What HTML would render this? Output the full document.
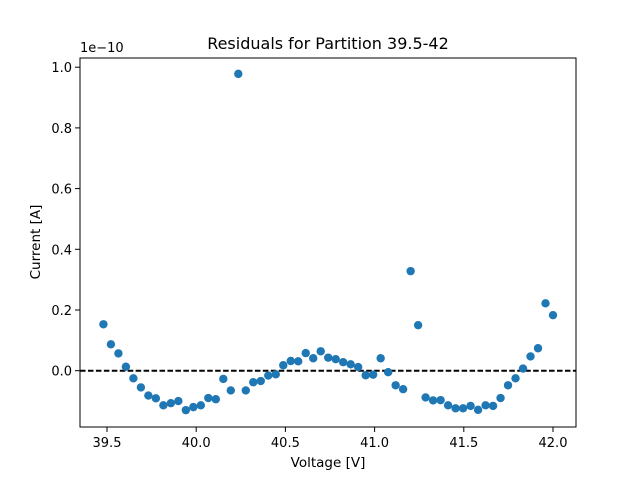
<!DOCTYPE html>
<html><head><meta charset="utf-8"><style>
body{margin:0;background:#fff;}
svg text{font-family:"DejaVu Sans","Liberation Sans",sans-serif;fill:#000;}
</style></head><body>
<svg id="chart" width="640" height="480" xmlns="http://www.w3.org/2000/svg">
<rect width="640" height="480" fill="#fff"/>
<text x="328" y="49" font-size="16" text-anchor="middle">Residuals for Partition 39.5-42</text>
<text x="80" y="52" font-size="13">1e−10</text>
<text x="328" y="467" font-size="13.5" text-anchor="middle">Voltage [V]</text>
<text transform="translate(40,242) rotate(-90)" font-size="13.5" text-anchor="middle">Current [A]</text>
<g id="ticks"></g>
<line id="zero" stroke="#000" stroke-width="2" stroke-dasharray="5.55,2.4"/>
<g id="pts"></g>
<rect x="80" y="58" width="496" height="369" fill="none" stroke="#000" stroke-width="1"/>
</svg>
<script>
const voltages=[39.48,39.522,39.564,39.606,39.648,39.69,39.732,39.774,39.816,39.858,39.9,39.942,39.984,40.026,40.068,40.11,40.152,40.194,40.236,40.278,40.32,40.362,40.404,40.446,40.488,40.53,40.572,40.614,40.656,40.698,40.74,40.782,40.824,40.866,40.908,40.95,40.992,41.034,41.076,41.118,41.16,41.202,41.244,41.286,41.328,41.37,41.412,41.454,41.496,41.538,41.58,41.622,41.664,41.706,41.748,41.79,41.832,41.874,41.916,41.958,42.0];
const residuals=[0.153,0.087,0.057,0.013,-0.025,-0.055,-0.082,-0.091,-0.114,-0.107,-0.100,-0.130,-0.120,-0.114,-0.090,-0.094,-0.027,-0.065,0.978,-0.065,-0.038,-0.034,-0.016,-0.012,0.018,0.032,0.031,0.058,0.041,0.064,0.043,0.038,0.028,0.021,0.012,-0.015,-0.013,0.041,-0.005,-0.048,-0.061,0.328,0.150,-0.088,-0.098,-0.097,-0.114,-0.124,-0.124,-0.116,-0.129,-0.114,-0.116,-0.090,-0.048,-0.025,0.007,0.047,0.074,0.222,0.183];
const xTicks=[39.5,40.0,40.5,41.0,41.5,42.0];
const yTicks=[0.0,0.2,0.4,0.6,0.8,1.0];
const X0=80,X1=576,Y0=58,Y1=427;
const xMin=39.3487,xMax=42.1289,yMin=-0.1855,yMax=1.0303;
function sx(v){return X0+(v-xMin)/(xMax-xMin)*(X1-X0);}
function sy(v){return Y1-(v-yMin)/(yMax-yMin)*(Y1-Y0);}
const NS="http://www.w3.org/2000/svg";
const tg=document.getElementById('ticks');
xTicks.forEach(t=>{
  const l=document.createElementNS(NS,'line');
  l.setAttribute('x1',sx(t));l.setAttribute('x2',sx(t));l.setAttribute('y1',Y1);l.setAttribute('y2',Y1+5);l.setAttribute('stroke','#000');
  
  
  tg.appendChild(l);
  const tx=document.createElementNS(NS,'text');
  tx.setAttribute('x',sx(t));tx.setAttribute('y',Y1+20);tx.setAttribute('font-size','13');tx.setAttribute('text-anchor','middle');
  tx.textContent=t.toFixed(1);
  
  
  tg.appendChild(tx);
});
yTicks.forEach(t=>{
  const l=document.createElementNS(NS,'line');
  l.setAttribute('x1',X0-5);l.setAttribute('x2',X0);l.setAttribute('y1',sy(t));l.setAttribute('y2',sy(t));l.setAttribute('stroke','#000');
  
  
  tg.appendChild(l);
  const tx=document.createElementNS(NS,'text');
  tx.setAttribute('x',X0-8);tx.setAttribute('y',sy(t)+5);tx.setAttribute('font-size','13');tx.setAttribute('text-anchor','end');
  tx.textContent=t.toFixed(1);
  
  
  tg.appendChild(tx);
});
const z=document.getElementById('zero');
z.setAttribute('x1',X0);z.setAttribute('x2',X1);z.setAttribute('y1',sy(0));z.setAttribute('y2',sy(0));
const pg=document.getElementById('pts');
voltages.forEach((v,i)=>{
  const c=document.createElementNS(NS,'circle');
  c.setAttribute('cx',sx(v));c.setAttribute('cy',sy(residuals[i]));c.setAttribute('r','4.2');c.setAttribute('fill','#1f77b4');
  
  
  pg.appendChild(c);
});
</script>
</body></html>
